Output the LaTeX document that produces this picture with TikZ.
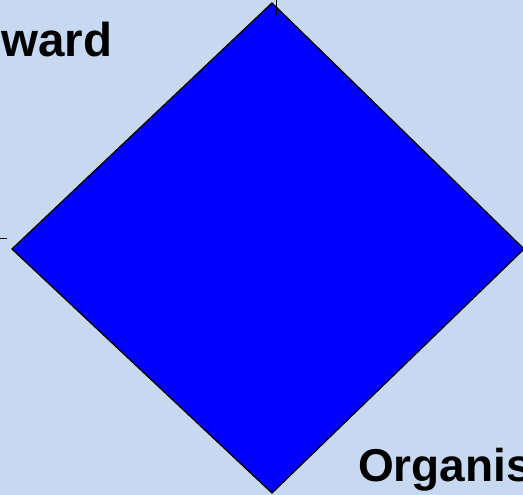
\documentclass[tikz,border=0pt]{standalone}
\usepackage{fontspec}
\setmainfont{Liberation Sans}
\usepackage{tikz}
\usepackage{xcolor}
\usetikzlibrary{arrows.meta,positioning}

\definecolor{bgblue}{RGB}{198,217,240}

\begin{document}
\begin{tikzpicture}[
  x=1pt, y=1pt,
  caption/.style={inner sep=0pt, anchor=base west, font=\bfseries},
  rhomb/.style={draw=black, line width=1.3pt, fill=blue, line join=miter},
  tick/.style={draw=black, line width=1pt}
]
\fill[bgblue] (0,0) rectangle (523,495);
\clip (0,0) rectangle (523,495);

% corners of the diamond
\coordinate (top) at (272,492);
\coordinate (left) at (12,246);
\coordinate (bottom) at (272,2);
\coordinate (right) at (524,246);
\draw[rhomb] (top) -- (right) -- (bottom) -- (left) -- cycle;

% small tick marks
\coordinate (t0) at (276,495);
\coordinate (t1) at (276,479);
\coordinate (l0) at (0,256);
\coordinate (l1) at (7,256);
\draw[tick] (t0) -- (t1);
\draw[tick] (l0) -- (l1);

\node[caption, font=\bfseries\fontsize{47.5}{52}\selectfont] (upper) at (1,438) {ward};
\node[caption, font=\bfseries\fontsize{46}{50}\selectfont] (lower) at (358,13) {Organis};
\end{tikzpicture}
\end{document}
